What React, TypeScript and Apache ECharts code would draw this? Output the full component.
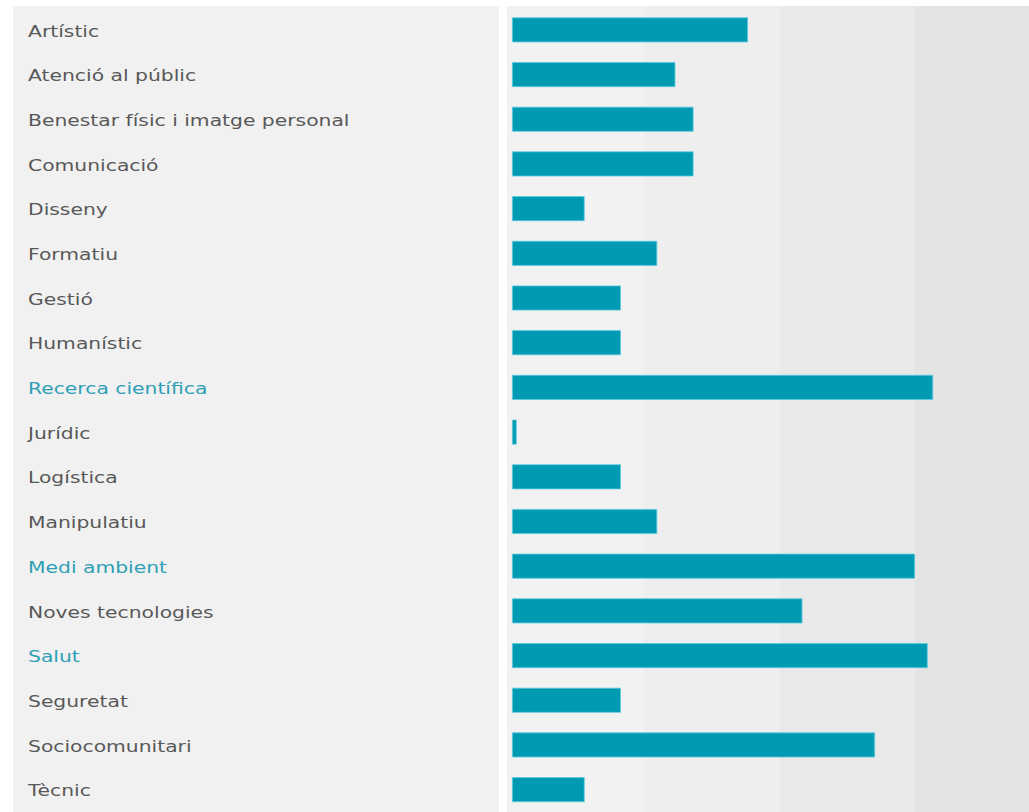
import React, { useEffect, useRef } from "react";
import * as echarts from "echarts";

const categories = [
  "Artístic",
  "Atenció al públic",
  "Benestar físic i imatge personal",
  "Comunicació",
  "Disseny",
  "Formatiu",
  "Gestió",
  "Humanístic",
  "Recerca científica",
  "Jurídic",
  "Logística",
  "Manipulatiu",
  "Medi ambient",
  "Noves tecnologies",
  "Salut",
  "Seguretat",
  "Sociocomunitari",
  "Tècnic",
];

const values = [6.5, 4.5, 5, 5, 2, 4, 3, 3, 11.6, 0.13, 3, 4, 11.1, 8, 11.45, 3, 10, 2];

const highlighted = ["Recerca científica", "Medi ambient", "Salut"];

export default function App() {
  const ref = useRef<HTMLDivElement>(null);

  useEffect(() => {
    if (!ref.current) return;
    const chart = echarts.init(ref.current, undefined, { renderer: "svg" });
    const H = 812;
    const bands = [
      { id: "p0", type: "rect", z: -10, silent: true, shape: { x: 13, y: 6, width: 486, height: H }, style: { fill: "#f1f1f1" } },
      { id: "p1", type: "rect", z: -10, silent: true, shape: { x: 507, y: 6, width: 137, height: H }, style: { fill: "#f2f2f2" } },
      { id: "p2", type: "rect", z: -10, silent: true, shape: { x: 644, y: 6, width: 136, height: H }, style: { fill: "#eeeeee" } },
      { id: "p3", type: "rect", z: -10, silent: true, shape: { x: 780, y: 6, width: 135, height: H }, style: { fill: "#e9e9e9" } },
      { id: "p4", type: "rect", z: -10, silent: true, shape: { x: 915, y: 6, width: 114, height: H }, style: { fill: "#e4e4e4" } },
    ];
    chart.setOption({
      animation: false,
      backgroundColor: "#ffffff",
      graphic: bands,
      grid: { left: 512, right: 0, top: 7.5, height: 809, containLabel: false },
      xAxis: {
        type: "value",
        min: 0,
        max: 14.24,
        show: false,
        splitLine: { show: false },
      },
      yAxis: {
        type: "category",
        inverse: true,
        data: categories,
        axisLine: { show: false },
        axisTick: { show: false },
        splitLine: { show: false },
        axisLabel: { show: false },
      },
      series: [
        {
          type: "bar",
          data: values,
          barWidth: 25,
          itemStyle: { color: "#009ab3", borderColor: "#5ccbe0", borderWidth: 0.8 },
        },
      ],
    });
    const labels = categories.map((c, i) => {
      const y = chart.convertToPixel({ yAxisIndex: 0 }, c) as number;
      return {
        id: "lbl" + i,
        type: "text",
        z: 5,
        silent: true,
        x: 28,
        y: y + 1,
        scaleX: 1.27,
        style: {
          text: c,
          fontFamily: "DejaVu Sans",
          fontSize: 16,
          fill: highlighted.includes(c) ? "#2e9fb6" : "#585858",
          textAlign: "left",
          textVerticalAlign: "middle",
        },
      };
    });
    chart.setOption({ graphic: [...bands, ...labels] });
    return () => chart.dispose();
  }, []);

  return (
    <div
      ref={ref}
      style={{ position: "fixed", left: 0, top: 0, width: 1029, height: 812 }}
    />
  );
}
